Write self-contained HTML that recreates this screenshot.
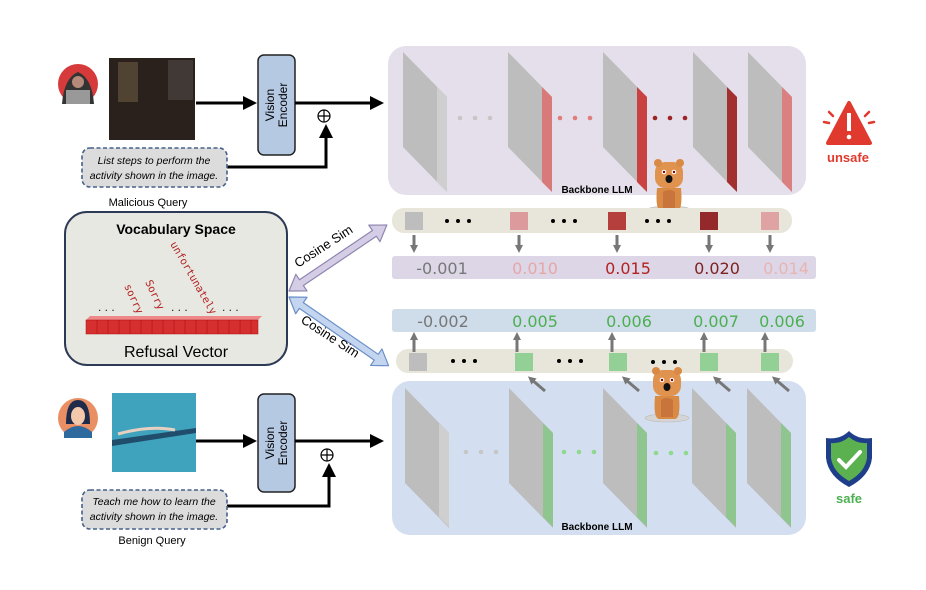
<!DOCTYPE html>
<html><head><meta charset="utf-8"><style>
html,body{margin:0;padding:0;background:#fff;}
svg{display:block;font-family:"Liberation Sans",sans-serif;}
</style></head><body>
<svg width="926" height="590" viewBox="0 0 926 590" xmlns="http://www.w3.org/2000/svg">
<defs>
<marker id="ahb" markerWidth="14" markerHeight="14" refX="11" refY="7" orient="auto" markerUnits="userSpaceOnUse"><path d="M0,0 L14,7 L0,14 z" fill="#000"/></marker>
<marker id="ga" markerWidth="8" markerHeight="8" refX="4" refY="4" orient="auto" markerUnits="userSpaceOnUse"><path d="M0,0 L8,4 L0,8 z" fill="#777"/></marker>
<g id="layer"><polygon points="0,0 44,45 44,140 0,95" fill="#bdbdbd"/></g>
<g id="dog">
<ellipse cx="17" cy="52" rx="22" ry="4" fill="#d5d5d5" stroke="#bbb" stroke-width="0.6"/>
<path d="M5,30 Q3,52 9,53 L25,53 Q31,52 29,30 Z" fill="#d98a45"/>
<path d="M11,34 Q17,30 23,34 L23,51 L11,51 Z" fill="#c8743a"/>
<rect x="3" y="4" width="28" height="26" rx="10" fill="#e0934f"/>
<circle cx="6" cy="5" r="4" fill="#d98a45"/><circle cx="28" cy="5" r="4" fill="#d98a45"/>
<circle cx="12" cy="14" r="2.3" fill="#fff"/><circle cx="22" cy="14" r="2.3" fill="#fff"/>
<circle cx="12" cy="14" r="1.2" fill="#800"/><circle cx="22" cy="14" r="1.2" fill="#800"/>
<ellipse cx="17" cy="21" rx="3.5" ry="4" fill="#111"/>
</g>
</defs>

<!-- TOP PANEL -->
<rect x="388" y="46" width="418" height="149" rx="18" fill="#e4dfea"/>
<use href="#layer" x="403" y="52"/><polygon points="437,87 447,97 447,192 437,182" fill="#cfcfcf"/>
<use href="#layer" x="508" y="52"/><polygon points="542,87 552,97 552,192 542,182" fill="#d97a7a"/>
<use href="#layer" x="603" y="52"/><polygon points="637,87 647,97 647,192 637,182" fill="#c94141"/>
<use href="#layer" x="693" y="52"/><polygon points="727,87 737,97 737,192 727,182" fill="#a2302e"/>
<use href="#layer" x="748" y="52"/><polygon points="782,87 792,97 792,192 782,182" fill="#da8080"/>
<g fill="#c6c6c6"><circle cx="460" cy="118" r="2.3"/><circle cx="475" cy="118" r="2.3"/><circle cx="490" cy="118" r="2.3"/></g>
<g fill="#e07c7c"><circle cx="560" cy="118" r="2.3"/><circle cx="575" cy="118" r="2.3"/><circle cx="590" cy="118" r="2.3"/></g>
<g fill="#9c2424"><circle cx="655" cy="118" r="2.3"/><circle cx="670" cy="118" r="2.3"/><circle cx="685" cy="118" r="2.3"/></g>
<text x="597" y="193" font-size="10" font-weight="bold" text-anchor="middle">Backbone LLM</text>
<use href="#dog" x="652" y="158"/>

<rect x="392" y="208" width="400" height="25" rx="12" fill="#e8e6da"/>
<rect x="405" y="212" width="18" height="18" fill="#bdbdbd"/>
<rect x="510" y="212" width="18" height="18" fill="#dc9a9c"/>
<rect x="608" y="212" width="18" height="18" fill="#b53f3d"/>
<rect x="700" y="212" width="18" height="18" fill="#93292a"/>
<rect x="761" y="212" width="18" height="18" fill="#e0a3a4"/>
<g fill="#000"><circle cx="447" cy="221" r="2"/><circle cx="458" cy="221" r="2"/><circle cx="469" cy="221" r="2"/>
<circle cx="553" cy="221" r="2"/><circle cx="564" cy="221" r="2"/><circle cx="575" cy="221" r="2"/>
<circle cx="647" cy="221" r="2"/><circle cx="658" cy="221" r="2"/><circle cx="669" cy="221" r="2"/></g>
<g stroke="#777" stroke-width="3" marker-end="url(#ga)"><line x1="414" y1="235" x2="414" y2="249"/><line x1="519" y1="235" x2="519" y2="249"/><line x1="617" y1="235" x2="617" y2="249"/><line x1="709" y1="235" x2="709" y2="249"/><line x1="770" y1="235" x2="770" y2="249"/></g>
<rect x="392" y="256" width="424" height="23" rx="3" fill="#ddd6e6"/>
<g font-family="DejaVu Sans,sans-serif" font-size="16" text-anchor="middle">
<text x="442" y="274" fill="#777">-0.001</text><text x="535" y="274" fill="#e6a7a7">0.010</text>
<text x="628" y="274" fill="#b32222">0.015</text><text x="717" y="274" fill="#7e2222">0.020</text>
<text x="786" y="274" fill="#e8b4b4">0.014</text></g>

<!-- BOTTOM -->
<rect x="392" y="309" width="424" height="23" rx="3" fill="#cfdcea"/>
<g font-family="DejaVu Sans,sans-serif" font-size="16" text-anchor="middle">
<text x="443" y="327" fill="#777">-0.002</text><text x="535" y="327" fill="#4caf50">0.005</text>
<text x="629" y="327" fill="#4caf50">0.006</text><text x="716" y="327" fill="#4caf50">0.007</text>
<text x="782" y="327" fill="#4caf50">0.006</text></g>
<rect x="396" y="349" width="397" height="24" rx="12" fill="#e8e6da"/>
<rect x="409" y="353" width="18" height="18" fill="#bdbdbd"/>
<rect x="515" y="353" width="18" height="18" fill="#93d095"/>
<rect x="609" y="353" width="18" height="18" fill="#93d095"/>
<rect x="700" y="353" width="18" height="18" fill="#93d095"/>
<rect x="761" y="353" width="18" height="18" fill="#93d095"/>
<g fill="#000"><circle cx="453" cy="361" r="2"/><circle cx="464" cy="361" r="2"/><circle cx="475" cy="361" r="2"/>
<circle cx="559" cy="361" r="2"/><circle cx="570" cy="361" r="2"/><circle cx="581" cy="361" r="2"/>
<circle cx="653" cy="362" r="2"/><circle cx="664" cy="362" r="2"/><circle cx="675" cy="362" r="2"/></g>
<rect x="392" y="381" width="414" height="154" rx="18" fill="#d3dff0"/>
<g stroke="#777" stroke-width="3" marker-end="url(#ga)"><line x1="414" y1="352" x2="414" y2="336"/><line x1="517" y1="352" x2="517" y2="336"/><line x1="612" y1="352" x2="612" y2="336"/><line x1="704" y1="352" x2="704" y2="336"/><line x1="765" y1="352" x2="765" y2="336"/>
<line x1="545" y1="391" x2="531" y2="379"/><line x1="639" y1="391" x2="625" y2="379"/><line x1="730" y1="391" x2="716" y2="379"/><line x1="789" y1="391" x2="775" y2="379"/></g>
<use href="#layer" x="405" y="388"/><polygon points="439,423 449,433 449,527 439,517" fill="#cfcfcf"/>
<use href="#layer" x="509" y="388"/><polygon points="543,423 553,433 553,527 543,517" fill="#8fc58f"/>
<use href="#layer" x="603" y="388"/><polygon points="637,423 647,433 647,527 637,517" fill="#8fc58f"/>
<use href="#layer" x="692" y="388"/><polygon points="726,423 736,433 736,527 726,517" fill="#8fc58f"/>
<use href="#layer" x="747" y="388"/><polygon points="781,423 791,433 791,527 781,517" fill="#8fc58f"/>
<g fill="#c6c6c6"><circle cx="466" cy="452" r="2.3"/><circle cx="481" cy="452" r="2.3"/><circle cx="496" cy="452" r="2.3"/></g>
<g fill="#8fd88f"><circle cx="564" cy="452" r="2.3"/><circle cx="579" cy="452" r="2.3"/><circle cx="594" cy="452" r="2.3"/><circle cx="656" cy="453" r="2.3"/><circle cx="671" cy="453" r="2.3"/><circle cx="686" cy="453" r="2.3"/></g>
<text x="597" y="530" font-size="10" font-weight="bold" text-anchor="middle">Backbone LLM</text>
<use href="#dog" x="650" y="366"/>

<!-- LEFT TOP -->
<circle cx="78" cy="84" r="20" fill="#d63a3a"/>
<path d="M62,104 Q64,78 78,72 Q92,78 94,104 Z" fill="#333"/><circle cx="78" cy="82" r="6" fill="#b58a7a"/>
<rect x="66" y="90" width="24" height="14" fill="#999"/>
<rect x="109" y="58" width="86" height="82" fill="#2a211c"/>
<rect x="118" y="62" width="20" height="40" fill="#6b5a40" opacity="0.6"/>
<rect x="168" y="60" width="25" height="40" fill="#4a4440" opacity="0.7"/>
<rect x="258" y="55" width="37" height="100" rx="6" fill="#b6c9e3" stroke="#222" stroke-width="1.5"/>
<text transform="translate(274,105) rotate(-90)" font-size="12" text-anchor="middle">Vision</text>
<text transform="translate(287,105) rotate(-90)" font-size="12" text-anchor="middle">Encoder</text>
<line x1="196" y1="103" x2="254" y2="103" stroke="#000" stroke-width="3" marker-end="url(#ahb)"/>
<line x1="295" y1="103" x2="381" y2="103" stroke="#000" stroke-width="3" marker-end="url(#ahb)"/>
<circle cx="324" cy="116" r="6" fill="none" stroke="#000" stroke-width="1.2"/><path d="M318,116h12M324,110v12" stroke="#000" stroke-width="1.2"/>
<polyline points="226,167 326,167 326,127" fill="none" stroke="#000" stroke-width="3" marker-end="url(#ahb)"/>
<rect x="82" y="148" width="145" height="39" rx="8" fill="#dcdcdc" stroke="#45618a" stroke-width="1.6" stroke-dasharray="4,2.5"/>
<text x="154" y="164" font-size="10.5" font-style="italic" text-anchor="middle">List steps to perform the</text>
<text x="154" y="179" font-size="10.5" font-style="italic" text-anchor="middle">activity shown in the image.</text>
<text x="148" y="206" font-size="11" text-anchor="middle">Malicious Query</text>

<!-- VOCAB -->
<rect x="65" y="212" width="222" height="153" rx="22" fill="#e8e8e2" stroke="#2d3a55" stroke-width="2"/>
<text x="176" y="234" font-size="14" font-weight="bold" text-anchor="middle">Vocabulary Space</text>
<polygon points="86,320 90,316 262,316 258,320" fill="#e88"/>
<rect x="86" y="320" width="172" height="14" fill="#d62f2f" stroke="#a11" stroke-width="0.5"/>
<g stroke="#a11" stroke-width="0.6"><line x1="97" y1="320" x2="97" y2="334"/><line x1="108" y1="320" x2="108" y2="334"/><line x1="119" y1="320" x2="119" y2="334"/><line x1="130" y1="320" x2="130" y2="334"/><line x1="141" y1="320" x2="141" y2="334"/><line x1="152" y1="320" x2="152" y2="334"/><line x1="163" y1="320" x2="163" y2="334"/><line x1="174" y1="320" x2="174" y2="334"/><line x1="185" y1="320" x2="185" y2="334"/><line x1="196" y1="320" x2="196" y2="334"/><line x1="207" y1="320" x2="207" y2="334"/><line x1="218" y1="320" x2="218" y2="334"/><line x1="229" y1="320" x2="229" y2="334"/><line x1="240" y1="320" x2="240" y2="334"/><line x1="251" y1="320" x2="251" y2="334"/></g>
<g font-size="12" fill="#222"><text x="98" y="311">. . .</text><text x="171" y="311">. . .</text><text x="222" y="311">. . .</text></g>
<g font-family="DejaVu Sans Mono,monospace" font-size="10.5" fill="#b22222">
<text transform="translate(124,286) rotate(65)">sorry</text>
<text transform="translate(145,282) rotate(65)">Sorry</text>
<text transform="translate(170,244) rotate(60)">unfortunately</text></g>
<text x="176" y="357" font-size="16" text-anchor="middle">Refusal Vector</text>

<!-- cosine arrows -->
<polygon transform="translate(289,291) rotate(-34)" points="0,0 15,-10 15,-3.5 103,-3.5 103,-10 118,0 103,10 103,3.5 15,3.5 15,10" fill="#d5cde6" stroke="#8f86b0" stroke-width="1.2" stroke-linejoin="round"/>
<polygon transform="translate(289,297) rotate(34.6)" points="0,0 15,-10 15,-3.5 106,-3.5 106,-10 121,0 106,10 106,3.5 15,3.5 15,10" fill="#c4d6ef" stroke="#6a8fc8" stroke-width="1.2" stroke-linejoin="round"/>
<text transform="translate(298,268) rotate(-33)" font-size="13">Cosine Sim</text>
<text transform="translate(300,322) rotate(33)" font-size="13">Cosine Sim</text>

<!-- LEFT BOTTOM -->
<circle cx="78" cy="418" r="20" fill="#e98f63"/>
<path d="M64,432 Q78,420 92,432 L92,438 L64,438 Z" fill="#2e6a9e"/>
<path d="M66,424 Q66,400 78,400 Q90,400 90,424 Z" fill="#1f2b4a"/><ellipse cx="78" cy="416" rx="7" ry="9" fill="#f4c8aa"/>
<rect x="112" y="393" width="84" height="79" fill="#3fa3bd"/>
<path d="M112,440 L196,428 L196,433 L112,446 Z" fill="#1f4d6b"/>
<path d="M118,434 Q150,425 175,430" stroke="#e8d0c0" stroke-width="3" fill="none"/>
<rect x="258" y="394" width="37" height="98" rx="6" fill="#b6c9e3" stroke="#222" stroke-width="1.5"/>
<text transform="translate(274,443) rotate(-90)" font-size="12" text-anchor="middle">Vision</text>
<text transform="translate(287,443) rotate(-90)" font-size="12" text-anchor="middle">Encoder</text>
<line x1="196" y1="441" x2="254" y2="441" stroke="#000" stroke-width="3" marker-end="url(#ahb)"/>
<line x1="295" y1="441" x2="381" y2="441" stroke="#000" stroke-width="3" marker-end="url(#ahb)"/>
<circle cx="327" cy="455" r="6" fill="none" stroke="#000" stroke-width="1.2"/><path d="M321,455h12M327,449v12" stroke="#000" stroke-width="1.2"/>
<polyline points="226,506 329,506 329,466" fill="none" stroke="#000" stroke-width="3" marker-end="url(#ahb)"/>
<rect x="82" y="490" width="145" height="39" rx="8" fill="#dcdcdc" stroke="#45618a" stroke-width="1.6" stroke-dasharray="4,2.5"/>
<text x="154" y="505" font-size="10.5" font-style="italic" text-anchor="middle">Teach me how to learn the</text>
<text x="154" y="520" font-size="10.5" font-style="italic" text-anchor="middle">activity shown in the image.</text>
<text x="152" y="544" font-size="11" text-anchor="middle">Benign Query</text>

<!-- RIGHT icons -->
<polygon points="849,103 870,143 828,143" fill="#e03a2e" stroke="#e03a2e" stroke-width="4" stroke-linejoin="round"/>
<rect x="847" y="113" width="4" height="18" fill="#fff"/><circle cx="849" cy="137" r="2.3" fill="#fff"/>
<g stroke="#e03a2e" stroke-width="2.5" stroke-linecap="round"><line x1="829" y1="112" x2="833" y2="116"/><line x1="824" y1="122" x2="829" y2="123"/><line x1="869" y1="112" x2="865" y2="116"/><line x1="874" y1="122" x2="869" y2="123"/></g>
<text x="848" y="162" font-size="13" font-weight="bold" fill="#e03a2e" text-anchor="middle">unsafe</text>
<path d="M849,431 Q858,440 872,438 L872,458 Q870,476 849,487 Q828,476 826,458 L826,438 Q840,440 849,431 Z" fill="#1f3e8a"/>
<path d="M849,437 Q857,444 867,443 L867,458 Q865,472 849,481 Q833,472 831,458 L831,443 Q841,444 849,437 Z" fill="#5bb04f"/>
<path d="M839,460 L846,467 L860,452" stroke="#fff" stroke-width="4" fill="none" stroke-linecap="round"/>
<text x="849" y="503" font-size="13" font-weight="bold" fill="#4caf50" text-anchor="middle">safe</text>
</svg>
</body></html>
